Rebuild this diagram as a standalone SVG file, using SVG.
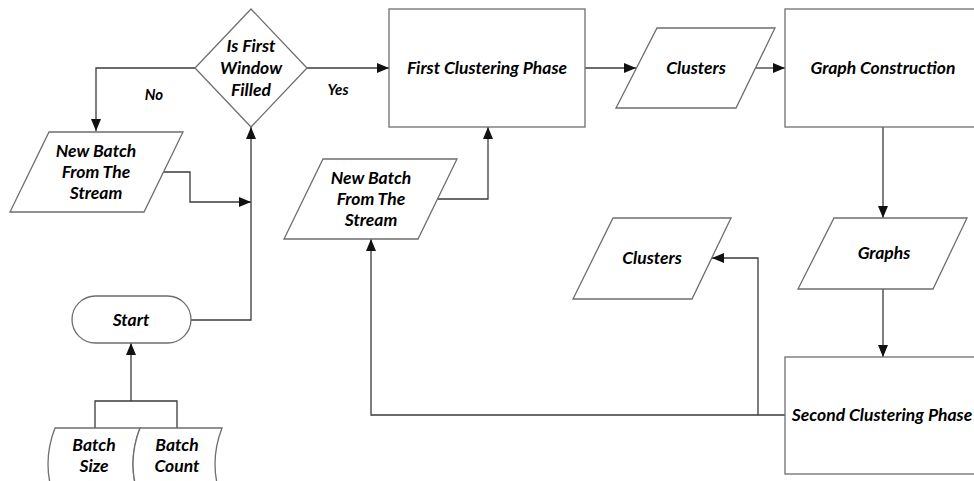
<svg xmlns="http://www.w3.org/2000/svg" width="974" height="481" viewBox="0 0 974 481">
<style>
.shape{fill:#fff;stroke:#6e6e6e;stroke-width:1.3}
.conn{fill:none;stroke:#3a3a3a;stroke-width:1.3}
text{font-family:Lato,"Open Sans","Liberation Sans",sans-serif;font-weight:bold;font-style:italic;font-size:17.5px;fill:#000;text-anchor:middle;dominant-baseline:central}
.lbl{font-size:15px}
</style>
<defs>
<marker id="arr" markerUnits="userSpaceOnUse" markerWidth="12" markerHeight="10" refX="12" refY="5" orient="auto">
<path d="M0,0 L12,5 L0,10 z" fill="#111"/>
</marker>
</defs>
<g id="connectors">
<path class="conn" d="M195,68 H96 V131" marker-end="url(#arr)"/>
<path class="conn" d="M307,68 H389" marker-end="url(#arr)"/>
<path class="conn" d="M164,172 H190 V202 H251" marker-end="url(#arr)"/>
<path class="conn" d="M191,320 H251 V127" marker-end="url(#arr)"/>
<path class="conn" d="M95,428 V401 H177 V428"/>
<path class="conn" d="M131,401 V343" marker-end="url(#arr)"/>
<path class="conn" d="M438,199 H488 V127" marker-end="url(#arr)"/>
<path class="conn" d="M585,68 H636" marker-end="url(#arr)"/>
<path class="conn" d="M756,68 H785" marker-end="url(#arr)"/>
<path class="conn" d="M883,127 V218" marker-end="url(#arr)"/>
<path class="conn" d="M883,289 V357" marker-end="url(#arr)"/>
<path class="conn" d="M785,415 H371 V239" marker-end="url(#arr)"/>
<path class="conn" d="M758,415 V258 H712" marker-end="url(#arr)"/>
<text class="lbl" x="154" y="94">No</text>
<text class="lbl" x="338" y="89">Yes</text>
</g>
<g id="decision">
<polygon class="shape" points="251,9 307,68 251,127 195,68"/>
<text x="251" y="45">Is First</text>
<text x="251" y="67">Window</text>
<text x="251" y="89">Filled</text>
</g>
<g id="batch1">
<polygon class="shape" points="49,132 183,132 144,212 10,212"/>
<text x="96" y="150">New Batch</text>
<text x="96" y="171">From The</text>
<text x="96" y="192">Stream</text>
</g>
<g id="start">
<rect class="shape" x="72" y="296" width="119" height="47" rx="23.5"/>
<text x="131" y="319">Start</text>
</g>
<g id="batchsize">
<path class="shape" d="M55,428 H140 Q126,464 140,500 H55 Q41,464 55,428 z"/>
<text x="94" y="444">Batch</text>
<text x="94" y="465">Size</text>
</g>
<g id="batchcount">
<path class="shape" d="M140,428 H222 Q208,464 222,500 H140 Q126,464 140,428 z"/>
<text x="177" y="444">Batch</text>
<text x="177" y="465">Count</text>
</g>
<g id="first-clustering">
<rect class="shape" x="389" y="9" width="196" height="118"/>
<text x="487" y="67">First Clustering Phase</text>
</g>
<g id="batch2">
<polygon class="shape" points="323,159 457,159 418,239 284,239"/>
<text x="371" y="177">New Batch</text>
<text x="371" y="198">From The</text>
<text x="371" y="219">Stream</text>
</g>
<g id="clusters1">
<polygon class="shape" points="657,28 775,28 736,108 616,108"/>
<text x="696" y="67">Clusters</text>
</g>
<g id="graph-construction">
<rect class="shape" x="785" y="9" width="196" height="118"/>
<text x="883" y="67">Graph Construction</text>
</g>
<g id="graphs">
<polygon class="shape" points="834,218 967,218 933,289 798,289"/>
<text x="884" y="252">Graphs</text>
</g>
<g id="clusters2">
<polygon class="shape" points="613,218 731,218 692,299 573,299"/>
<text x="652" y="257">Clusters</text>
</g>
<g id="second-clustering">
<rect class="shape" x="785" y="357" width="196" height="117"/>
<text x="882" y="414">Second Clustering Phase</text>
</g>
</svg>
